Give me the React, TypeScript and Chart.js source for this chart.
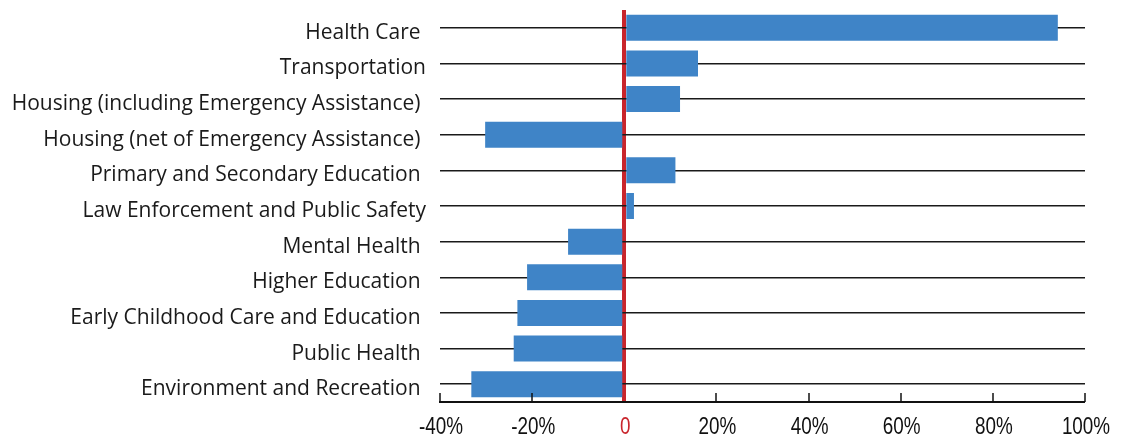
import React, { useEffect, useRef } from "react";
import { Chart, registerables } from "chart.js";

Chart.register(...registerables);

const categories = [
  "Health Care ",
  "Transportation",
  "Housing (including Emergency Assistance) ",
  "Housing (net of Emergency Assistance) ",
  "Primary and Secondary Education ",
  "Law Enforcement and Public Safety",
  "Mental Health ",
  "Higher Education ",
  "Early Childhood Care and Education ",
  "Public Health ",
  "Environment and Recreation ",
];

const values = [94.1, 16.0, 12.1, -30.2, 11.1, 2.1, -12.2, -21.1, -23.2, -24.0, -33.2];

const xMin = -40;
const xMax = 100;
const xStep = 20;

const BAR_COLOR = "#3F84C7";
const RED = "#C9252C";
const LABEL_FONT = "'Open Sans', 'Noto Sans', sans-serif";
const TICK_FONT = "'Liberation Sans', Arial, sans-serif";

const fmtTick = (v: number) => (v === 0 ? "0" : v + "%");

const axisExtras = {
  id: "axisExtras",
  afterDatasetsDraw(chart: any) {
    const x = chart.scales.x;
    const ctx = chart.ctx;
    const bottom = chart.chartArea.bottom;
    ctx.save();
    ctx.strokeStyle = "#111";
    ctx.lineWidth = 1.5;
    x.ticks.forEach((t: any) => {
      if (t.value === 0) return;
      const px = Math.round(x.getPixelForValue(t.value));
      ctx.beginPath();
      ctx.moveTo(px, bottom - 9);
      ctx.lineTo(px, bottom);
      ctx.stroke();
    });
    ctx.restore();
  },
  afterDraw(chart: any) {
    const x = chart.scales.x;
    const ctx = chart.ctx;
    const bottom = chart.chartArea.bottom;
    ctx.save();
    ctx.font = "23px " + TICK_FONT;
    ctx.textAlign = "center";
    ctx.textBaseline = "alphabetic";
    x.ticks.forEach((t: any) => {
      const px = x.getPixelForValue(t.value);
      ctx.save();
      ctx.translate(px + 1, bottom + 32);
      ctx.scale(0.82, 1);
      ctx.fillStyle = t.value === 0 ? RED : "#111";
      ctx.fillText(fmtTick(t.value), 0, 0);
      ctx.restore();
    });
    ctx.restore();
  },
};

export default function App() {
  const ref = useRef<HTMLCanvasElement | null>(null);
  useEffect(() => {
    if (!ref.current) return;
    const chart = new Chart(ref.current, {
      type: "bar",
      data: {
        labels: categories,
        datasets: [
          {
            data: values,
            backgroundColor: BAR_COLOR,
            borderWidth: 0,
            barPercentage: 0.73,
            categoryPercentage: 1,
          },
        ],
      },
      options: {
        indexAxis: "y",
        animation: false,
        responsive: true,
        maintainAspectRatio: false,
        layout: { padding: { top: 10, right: 40, left: 0, bottom: 0 } },
        plugins: { legend: { display: false }, tooltip: { enabled: false } },
        scales: {
          x: {
            min: xMin,
            max: xMax,
            afterFit: (s: any) => {
              s.height = 33;
              s.paddingLeft = 0;
              s.paddingRight = 0;
            },
            ticks: {
              stepSize: xStep,
              display: false,
            },
            grid: {
              drawTicks: false,
              color: (c: any) => (c.tick && c.tick.value === 0 ? RED : "rgba(0,0,0,0)"),
              lineWidth: (c: any) => (c.tick && c.tick.value === 0 ? 4 : 0),
            },
            border: { display: true, color: "#111", width: 2 },
          },
          y: {
            afterFit: (s: any) => {
              s.width = 440;
              s.paddingTop = 0;
              s.paddingBottom = 0;
            },
            ticks: {
              padding: 14,
              labelOffset: 5,
              color: "#1a1a1a",
              font: { family: LABEL_FONT, size: 21 },
              autoSkip: false,
            },
            grid: {
              offset: false,
              drawTicks: false,
              color: "#1a1a1a",
              lineWidth: 1.5,
            },
            border: { display: false },
          },
        },
      },
      plugins: [axisExtras],
    });
    return () => chart.destroy();
  }, []);
  return (
    <div style={{ position: "absolute", left: 0, top: 0, width: 1125, height: 435, background: "#fff" }}>
      <canvas ref={ref} />
    </div>
  );
}
